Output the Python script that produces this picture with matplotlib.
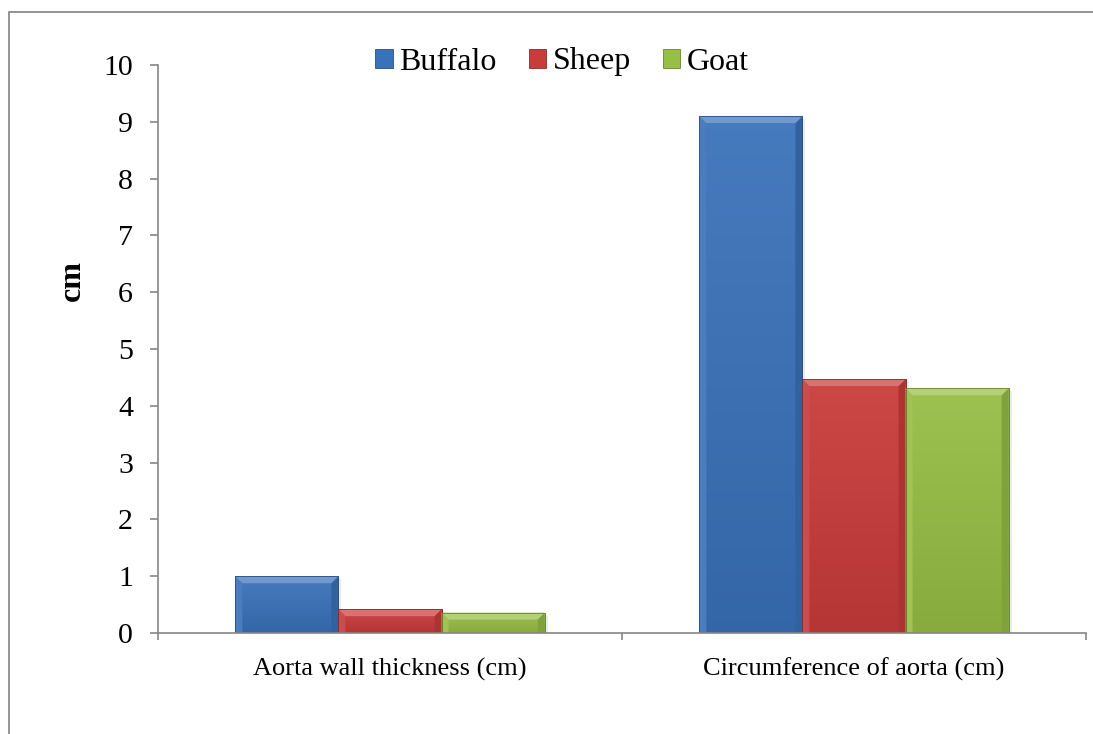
import numpy as np
import matplotlib
matplotlib.use("Agg")
import matplotlib.pyplot as plt
from matplotlib.patches import Polygon, Rectangle, Patch
from matplotlib.colors import to_rgb

# ---- data ----
categories = ["Aorta wall thickness (cm)", "Circumference of aorta (cm)"]
species = ["Buffalo", "Sheep", "Goat"]
buffalo = [1.0, 9.1]
sheep = [0.42, 4.47]
goat = [0.36, 4.31]
yticks = list(range(0, 11))

series = [buffalo, sheep, goat]
colors = ["#3a72ba", "#c93c3b", "#97be45"]

plt.rcParams["font.family"] = ["Liberation Serif", "DejaVu Serif"]

W, H, DPI = 1093, 734, 100
fig = plt.figure(figsize=(W / DPI, H / DPI), dpi=DPI)
ax = fig.add_axes([158 / W, 1 - 633 / H, (1086 - 158) / W, (633 - 65) / H])

n = len(series)
bar_w = 1.0 / (n + 1.5)
x = np.arange(len(categories))
ax.set_xlim(-0.5, len(categories) - 0.5)
ax.set_ylim(0, 10)


def shade(c, f):
    r, g, b = to_rgb(c)
    if f >= 0:
        return (r + (1 - r) * f, g + (1 - g) * f, b + (1 - b) * f)
    f = -f
    return (r * (1 - f), g * (1 - f), b * (1 - f))


# pixel -> data conversion for bevel sizes
px_x = (ax.get_xlim()[1] - ax.get_xlim()[0]) / (1086 - 158)
px_y = (ax.get_ylim()[1] - ax.get_ylim()[0]) / (633 - 65)
bev = 7

for i, (vals, col) in enumerate(zip(series, colors)):
    offs = x + (i - (n - 1) / 2) * bar_w
    bars = ax.bar(offs, vals, width=bar_w, color=col, edgecolor=shade(col, -0.25),
                  linewidth=0.6, zorder=3, label=species[i])
    for b in bars:
        x0, w, h = b.get_x(), b.get_width(), b.get_height()
        # soft drop shadow
        ax.add_patch(Rectangle((x0 + 3 * px_x, 0), w, h - 3 * px_y, color="#000000",
                               alpha=0.08, zorder=2, lw=0))
        # vertical gradient body (lighter at the top)
        grad = np.linspace(0, 1, 64).reshape(-1, 1)
        top_c = np.array(shade(col, 0.06))
        bot_c = np.array(shade(col, -0.10))
        img = top_c * (1 - grad[..., None]) + bot_c * grad[..., None]
        im = ax.imshow(img, extent=(x0, x0 + w, 0, h), origin="upper", aspect="auto",
                       zorder=3.2, interpolation="bilinear")
        im.set_clip_path(b)
        dx, dy = bev * px_x, min(bev * px_y, h * 0.45)
        ax.add_patch(Polygon([(x0, h), (x0 + w, h), (x0 + w - dx, h - dy), (x0 + dx, h - dy)],
                             closed=True, color=shade(col, 0.28), lw=0, zorder=3.4))
        ax.add_patch(Polygon([(x0, 0), (x0, h), (x0 + dx, h - dy), (x0 + dx, 0)],
                             closed=True, color=shade(col, 0.08), lw=0, zorder=3.3))
        ax.add_patch(Polygon([(x0 + w, 0), (x0 + w, h), (x0 + w - dx, h - dy), (x0 + w - dx, 0)],
                             closed=True, color=shade(col, -0.15), lw=0, zorder=3.3))
        ax.add_patch(Rectangle((x0, 0), w, h, fill=False, edgecolor=shade(col, -0.3),
                               lw=0.6, zorder=3.5))

# ---- axes styling ----
axis_col = "#868686"
for s in ["top", "right"]:
    ax.spines[s].set_visible(False)
for s in ["left", "bottom"]:
    ax.spines[s].set_color(axis_col)
    ax.spines[s].set_linewidth(1.2)
    ax.spines[s].set_zorder(4)

ax.set_yticks(yticks)
ax.set_yticklabels([str(t) for t in yticks], fontsize=21.5)
ax.tick_params(axis="y", direction="out", length=6, width=1.2, color=axis_col, pad=12)

ax.set_xticks(x)
ax.set_xticklabels(categories, fontsize=19)
ax.tick_params(axis="x", which="major", length=0, pad=18)
ax.set_xticks(np.arange(-0.5, len(categories), 1.0), minor=True)
ax.tick_params(axis="x", which="minor", direction="out", length=5, width=1.2, color=axis_col)

ax.set_ylabel("cm", fontsize=23, fontweight="bold")
ax.yaxis.set_label_coords(-0.077, 0.62)

handles = [Patch(facecolor=c, edgecolor=shade(c, -0.3), linewidth=0.6) for c in colors]
fig.legend(handles, species, loc="center", bbox_to_anchor=(562 / W, 1 - 62 / H), ncol=3,
           frameon=False, fontsize=23, handlelength=0.55, handleheight=0.55,
           handletextpad=0.2, columnspacing=1.0, borderaxespad=0)

# chart-area border
top = 1 - 12 / H
fig.add_artist(Rectangle((9 / W, -0.2), 1.2, top + 0.2, transform=fig.transFigure,
                         fill=False, edgecolor="#8c8c8c", lw=1.3))

fig.savefig("out.png", dpi=DPI)
